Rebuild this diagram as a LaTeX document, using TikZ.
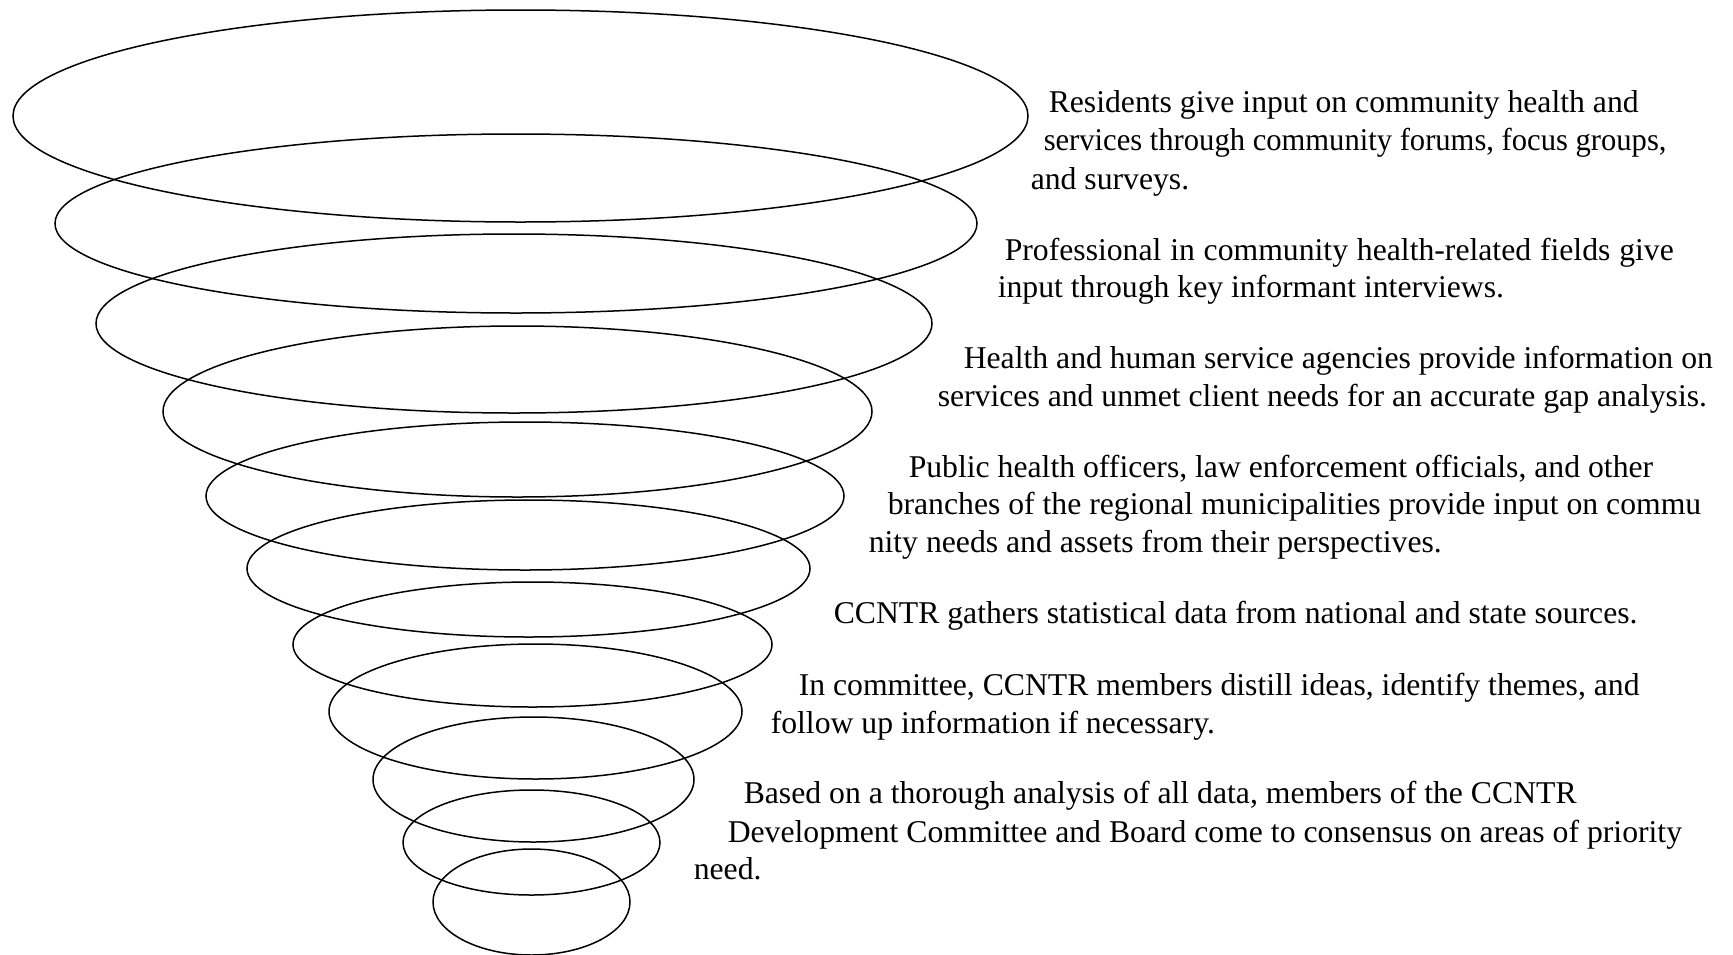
\documentclass[tikz,border=0pt]{standalone}
\usepackage{fontspec}
\setmainfont{Liberation Serif}
\tikzstyle{every node}=[anchor=base west, inner sep=0pt, font=\fontsize{31.7}{38}\selectfont]

\begin{document}
\begin{tikzpicture}[x=1pt, y=-1pt, line width=1.5pt]
\useasboundingbox (0,0) rectangle (1733,954);
% Rings of the funnel, widest first
    \draw (520.5,116) ellipse [x radius=507.5, y radius=106];
    \draw (516,223.5) ellipse [x radius=461, y radius=89.5];
    \draw (514,323.5) ellipse [x radius=418, y radius=89.5];
    \draw (517.5,411.5) ellipse [x radius=354.5, y radius=85.5];
    \draw (525,496) ellipse [x radius=319, y radius=74];
    \draw (528.5,568.5) ellipse [x radius=281.5, y radius=68.5];
    \draw (532.5,644.5) ellipse [x radius=239.5, y radius=62.5];
    \draw (535.5,711.5) ellipse [x radius=206.5, y radius=67.5];
    \draw (533.5,779.5) ellipse [x radius=160.5, y radius=62.5];
    \draw (531.5,842.5) ellipse [x radius=128.5, y radius=52.5];
    \draw (531.5,902) ellipse [x radius=98.5, y radius=53];
% Residents
    \node (res1) at (1048,112) {Residents give input on community health and};
    \node (res2) at (1043,150) {\scalebox{0.965}[1]{services through community forums, focus groups,}};
    \node (res3) at (1030,189) {and surveys.};
% Professionals
    \node (pro1) at (1004,260) {\makebox[669pt][s]{Professional in community health-related fields give}};
    \node (pro2) at (997,297) {input through key informant interviews.};
% Agencies
    \node (agc1) at (963,368) {Health and human service agencies provide information on};
    \node (agc2) at (937,406) {services and unmet client needs for an accurate gap analysis.};
% Public officials
    \node (pub1) at (908,477) {Public health officers, law enforcement officials, and other};
    \node (pub2) at (887,514) {branches of the regional municipalities provide input on commu};
    \node (pub3) at (868,552) {nity needs and assets from their perspectives.};
% Statistics
    \node (stat1) at (833,623) {CCNTR gathers statistical data from national and state sources.};
% Committee
    \node (cmt1) at (798,695) {In committee, CCNTR members distill ideas, identify themes, and};
    \node (cmt2) at (770,733) {follow up information if necessary.};
% Board
    \node (brd1) at (743,803) {Based on a thorough analysis of all data, members of the CCNTR};
    \node (brd2) at (727,842) {Development Committee and Board come to consensus on areas of priority};
    \node (brd3) at (693,879) {need.};
\end{tikzpicture}
\end{document}
